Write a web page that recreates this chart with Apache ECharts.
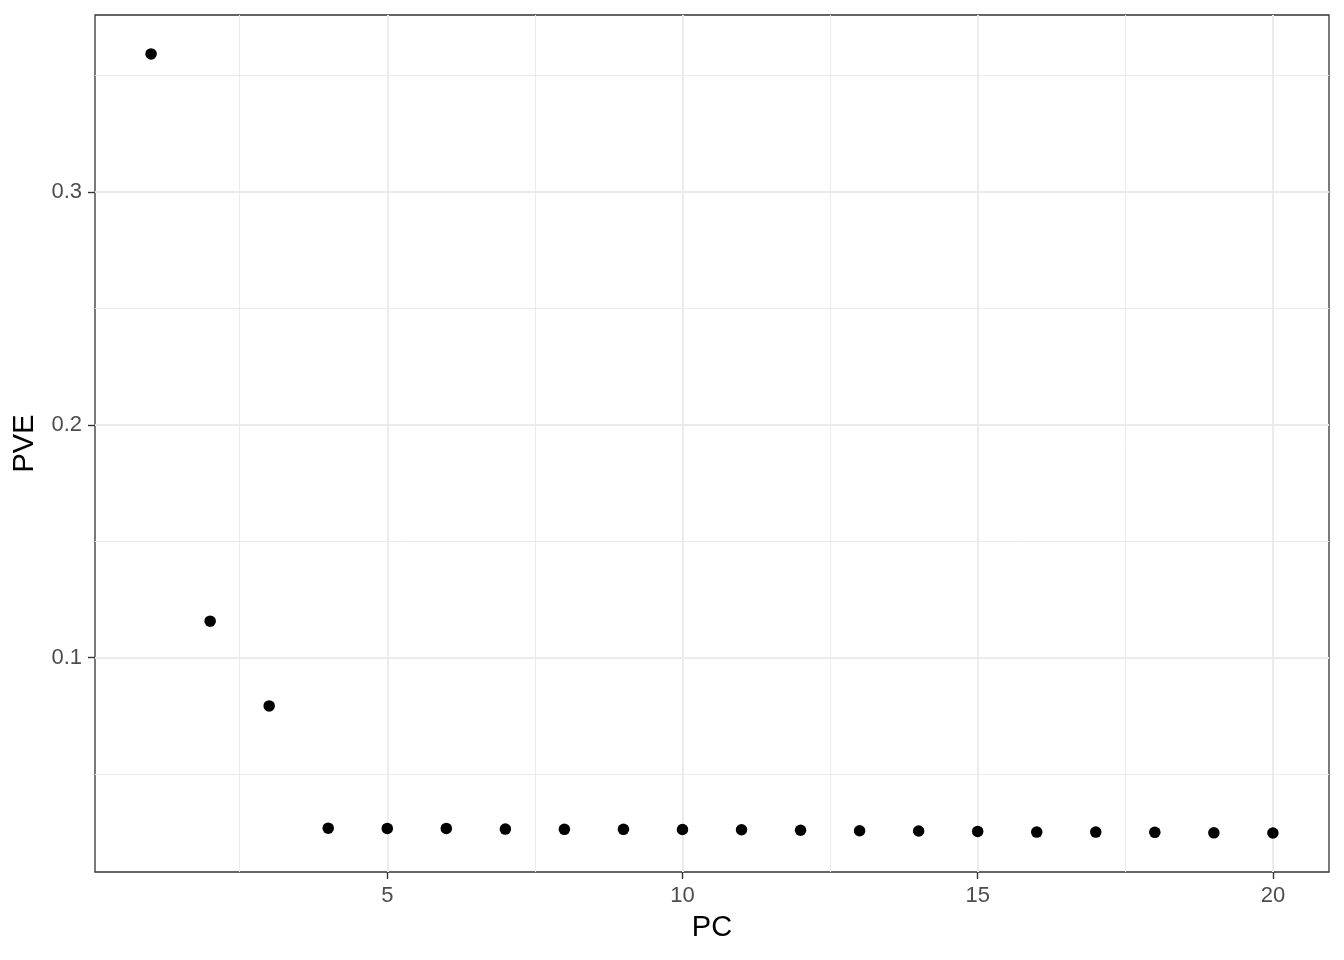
<!DOCTYPE html>
<html>
<head>
<meta charset="utf-8">
<script src="https://cdn.jsdelivr.net/npm/echarts@6/dist/echarts.min.js"></script>
<style>html,body{margin:0;padding:0;background:#fff}#c{width:1344px;height:960px}</style>
</head>
<body>
<div id="c"></div>
<script>
const pcs = [1,2,3,4,5,6,7,8,9,10,11,12,13,14,15,16,17,18,19,20];
const pve = [0.3593,0.1157,0.0793,0.0268,0.0267,0.0267,0.0264,0.0263,0.0263,0.0262,0.0261,0.0259,0.0257,0.0256,0.0254,0.0251,0.0251,0.0250,0.0248,0.0247];
const xMajor = [5,10,15,20];
const xMinor = [2.5,7.5,12.5,17.5];
const yMajor = [0.1,0.2,0.3];
const yMinor = [0.05,0.15,0.25,0.35];
const xRange = [0.05,20.95];
const yRange = [0.00797,0.3760];

const font = 'Liberation Sans, Arial, Helvetica, sans-serif';
const chart = echarts.init(document.getElementById('c'), null, {renderer:'canvas'});
function ml(vals, key, w){
  return vals.map(v => ({[key]: v, lineStyle:{color:'#ebebeb', width:w, type:'solid'}}));
}
chart.setOption({
  animation:false,
  backgroundColor:'#ffffff',
  grid:{left:95, right:15, top:15, bottom:88, show:true, borderColor:'#333333', borderWidth:1.3, backgroundColor:'transparent'},
  xAxis:{
    type:'value', min:xRange[0], max:xRange[1],
    name:'PC', nameLocation:'middle', nameGap:41,
    nameTextStyle:{fontFamily:font, fontSize:29, color:'#000'},
    axisLine:{show:false},
    splitLine:{show:false},
    axisTick:{show:true, customValues:xMajor, length:7, lineStyle:{color:'#333333', width:1.4}},
    axisLabel:{customValues:xMajor, fontFamily:font, fontSize:22, color:'#4d4d4d', margin:13}
  },
  yAxis:{
    type:'value', min:yRange[0], max:yRange[1],
    name:'PVE', nameLocation:'middle', nameGap:56, nameRotate:90,
    nameTextStyle:{fontFamily:font, fontSize:29, color:'#000'},
    axisLine:{show:false},
    splitLine:{show:false},
    axisTick:{show:true, customValues:yMajor, length:7, lineStyle:{color:'#333333', width:1.4}},
    axisLabel:{customValues:yMajor, fontFamily:font, fontSize:22, color:'#4d4d4d', margin:13,
      formatter: v => v.toFixed(1)}
  },
  series:[
    {
      type:'scatter', data:[], z:1, zlevel:0, silent:true,
      markLine:{
        silent:true, symbol:['none','none'], label:{show:false}, animation:false,
        data: [].concat(ml(xMinor,'xAxis',1), ml(yMinor,'yAxis',1), ml(xMajor,'xAxis',2), ml(yMajor,'yAxis',2))
      }
    },
    {
      type:'scatter', z:10, zlevel:1,
      data: pcs.map((p,i)=>[p,pve[i]]),
      symbol:'circle', symbolSize:11.5,
      itemStyle:{color:'#000000', opacity:1}
    }
  ]
});
</script>
</body>
</html>
